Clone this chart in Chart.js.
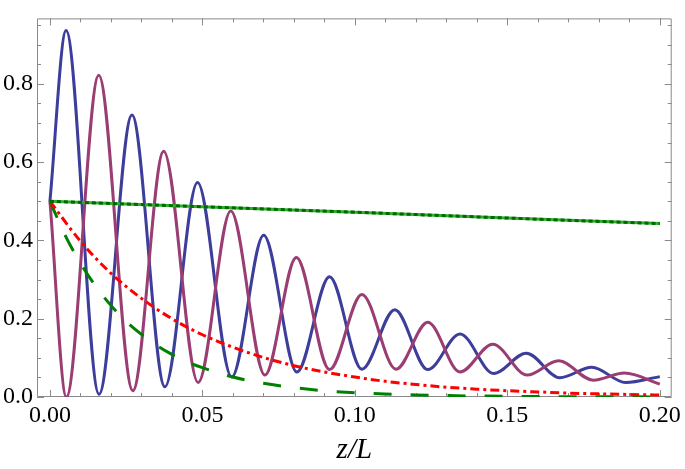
<!DOCTYPE html>
<html>
<head>
<meta charset="utf-8">
<script src="https://cdn.jsdelivr.net/npm/chart.js@4/dist/chart.umd.min.js"></script>
<style>
  html, body { margin: 0; padding: 0; background: #ffffff; }
  #wrap { width: 685px; height: 469px; position: relative; }
</style>
</head>
<body>
<div id="wrap"><canvas id="c"></canvas></div>
<script>
// ---- data ----
const xTickLabels = [0.00, 0.05, 0.10, 0.15, 0.20];
const yTickLabels = [0.0, 0.2, 0.4, 0.6, 0.8];

// blue oscillation: start, then alternating peaks / troughs
const blueZ = [0, 0.0053, 0.0161, 0.0269, 0.0377, 0.0484, 0.0596, 0.0701, 0.0810, 0.0917, 0.1023, 0.1131, 0.1239, 0.1345, 0.1455, 0.1562, 0.1672, 0.1777, 0.1888, 0.2000];
const blueV = [0.50, 0.936, 0.007, 0.720, 0.026, 0.548, 0.051, 0.413, 0.064, 0.307, 0.071, 0.223, 0.070, 0.161, 0.060, 0.112, 0.049, 0.076, 0.037, 0.052];

// purple oscillation: start, then alternating troughs / peaks
const purpleZ = [0, 0.0054, 0.0160, 0.0272, 0.0373, 0.0486, 0.0593, 0.0705, 0.0808, 0.0917, 0.1023, 0.1135, 0.1239, 0.1345, 0.1452, 0.1565, 0.1668, 0.1782, 0.1884, 0.2000];
const purpleV = [0.50, 0.000, 0.822, 0.016, 0.628, 0.037, 0.475, 0.056, 0.356, 0.070, 0.262, 0.071, 0.191, 0.064, 0.135, 0.056, 0.0925, 0.043, 0.061, 0.033];

// slowly decaying green line (solid with dark dotted overlay)
const slowZ = [0, 0.05, 0.10, 0.15, 0.20];
const slowV = [0.500, 0.486, 0.472, 0.457, 0.443];

// red dash-dot decay
const redZ = [0, 0.01, 0.02, 0.03, 0.04, 0.05, 0.06, 0.07, 0.08, 0.09, 0.10, 0.11, 0.12, 0.13, 0.14, 0.15, 0.16, 0.17, 0.18, 0.19, 0.20];
const redV = [0.500, 0.398, 0.316, 0.252, 0.200, 0.159, 0.127, 0.101, 0.080, 0.064, 0.051, 0.040, 0.032, 0.025, 0.020, 0.016, 0.013, 0.010, 0.008, 0.0065, 0.005];

// green dashed fast decay
const fastZ = [0, 0.005, 0.01, 0.015, 0.02, 0.025, 0.03, 0.035, 0.04, 0.045, 0.05, 0.06, 0.07, 0.08, 0.09, 0.10, 0.11, 0.12, 0.13, 0.14, 0.15, 0.16, 0.17, 0.18, 0.19, 0.20];
const fastV = [0.500, 0.413, 0.342, 0.283, 0.234, 0.193, 0.160, 0.132, 0.109, 0.090, 0.075, 0.051, 0.035, 0.024, 0.016, 0.011, 0.0077, 0.0052, 0.0036, 0.0025, 0.0017, 0.0011, 0.0008, 0.0005, 0.0004, 0.0002];

function pts(zs, vs) { return zs.map((z, i) => ({ x: z, y: vs[i] })); }

const serif = '"Liberation Serif", "Times New Roman", serif';

const framePlugin = {
  id: 'frame',
  beforeDatasetsDraw(chart) {
    const { ctx, chartArea: a, scales: { x, y } } = chart;
    ctx.save();
    ctx.strokeStyle = '#8a8a8a';
    ctx.lineWidth = 1;
    ctx.beginPath();
    ctx.rect(a.left + 0.5, a.top + 0.5, a.right - a.left - 1, a.bottom - a.top - 1);
    ctx.stroke();
    ctx.beginPath();
    for (let k = 0; k <= 20; k++) {
      const v = k / 100;
      const px = Math.round(x.getPixelForValue(v)) + 0.5;
      const len = (k % 5 === 0) ? 7 : 4;
      ctx.moveTo(px, a.bottom); ctx.lineTo(px, a.bottom - len);
      ctx.moveTo(px, a.top); ctx.lineTo(px, a.top + len);
    }
    for (let k = 0; k <= 19; k++) {
      const v = k * 0.05;
      const py = Math.round(y.getPixelForValue(v)) + 0.5;
      const len = (k % 4 === 0) ? 7 : 4;
      ctx.moveTo(a.left, py); ctx.lineTo(a.left + len, py);
      ctx.moveTo(a.right, py); ctx.lineTo(a.right - len, py);
    }
    ctx.stroke();
    ctx.restore();
  }
};

const common = { pointRadius: 0, fill: false, borderWidth: 3 };

new Chart(document.getElementById('c'), {
  type: 'line',
  data: {
    datasets: [
      Object.assign({ data: pts(slowZ, slowV), borderColor: '#006a00', borderDash: [4, 3] }, common),
      Object.assign({ data: pts(slowZ, slowV), borderColor: '#2fae2f' }, common),
      Object.assign({ data: pts(redZ, redV), borderColor: '#ff0000', borderDash: [9, 4, 3, 4], cubicInterpolationMode: 'monotone' }, common),
      Object.assign({ data: pts(fastZ, fastV), borderColor: '#008000', borderDash: [18, 19], cubicInterpolationMode: 'monotone' }, common),
      Object.assign({ data: pts(purpleZ, purpleV), borderColor: '#993d72', cubicInterpolationMode: 'monotone' }, common),
      Object.assign({ data: pts(blueZ, blueV), borderColor: '#3d3d9b', cubicInterpolationMode: 'monotone' }, common)
    ]
  },
  options: {
    responsive: true,
    maintainAspectRatio: false,
    animation: false,
    events: [],
    layout: { padding: { left: 0, right: 10, top: 3, bottom: 0 } },
    plugins: { legend: { display: false }, tooltip: { enabled: false } },
    scales: {
      x: {
        type: 'linear',
        min: -0.00424,
        max: 0.2039,
        grid: { display: false, drawTicks: false },
        border: { display: false },
        afterBuildTicks: (s) => { s.ticks = xTickLabels.map(v => ({ value: v })); },
        afterFit: (s) => { s.height = 72; },
        ticks: {
          autoSkip: false,
          maxRotation: 0,
          padding: 4,
          color: '#000',
          font: { family: serif, size: 24 },
          callback: (v) => Number(v).toFixed(2)
        },
        title: {
          display: true,
          text: 'z/L',
          color: '#000',
          font: { family: serif, size: 29, style: 'italic' },
          padding: { top: 0, bottom: 1 }
        }
      },
      y: {
        type: 'linear',
        min: 0,
        max: 0.967,
        grid: { display: false, drawTicks: false },
        border: { display: false },
        afterBuildTicks: (s) => { s.ticks = yTickLabels.map(v => ({ value: v })); },
        afterFit: (s) => { s.width = 37; },
        ticks: {
          autoSkip: false,
          padding: 4,
          color: '#000',
          font: { family: serif, size: 24 },
          callback: (v) => Number(v).toFixed(1)
        }
      }
    }
  },
  plugins: [framePlugin]
});
</script>
</body>
</html>
